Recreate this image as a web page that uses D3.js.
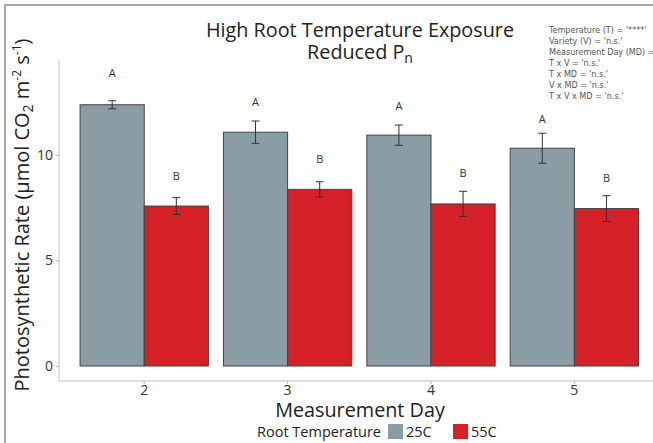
<!DOCTYPE html>
<html>
<head>
<meta charset="utf-8">
<script src="https://cdn.jsdelivr.net/npm/d3@7"></script>
<style>
  body { margin: 0; background: #fff; }
  svg { display: block; font-family: "Open Sans", "Noto Sans", sans-serif; }
  .axis path, .axis line { stroke: #bdbdbd; }
  .axis text { fill: #333; font-size: 14px; font-family: "Open Sans", sans-serif; }
  .stats text { font-family: "Liberation Sans Narrow", "DejaVu Sans Condensed", sans-serif; font-size: 9px; fill: #555; }
</style>
</head>
<body>
<svg id="chart" width="653" height="443"></svg>
<script>
(function () {
  "use strict";

  const days = ["2", "3", "4", "5"];
  const temps = ["25C", "55C"];
  const meanLow = [12.38, 11.08, 10.94, 10.32];
  const seLow = [0.19, 0.53, 0.48, 0.71];
  const meanHigh = [7.58, 8.37, 7.68, 7.46];
  const seHigh = [0.40, 0.36, 0.60, 0.61];
  const lettersLow = ["A", "A", "A", "A"];
  const lettersHigh = ["B", "B", "B", "B"];
  const letterPosLow = [13.9, 12.5, 12.3, 11.7];
  const letterPosHigh = [9.0, 9.8, 9.15, 8.9];
  const yTicks = [0, 5, 10];
  const statLines = [
    "Temperature (T)  = '****'",
    "Variety (V) = 'n.s.'",
    "Measurement Day (MD) = 'n.s.'",
    "T x V = 'n.s.'",
    "T x MD = 'n.s.'",
    "V x MD = 'n.s.'",
    "T x V x MD = 'n.s.'"
  ];

  const colors = { "25C": "#8a9da4", "55C": "#d42026" };

  const svg = d3.select("#chart");

  // frame of the original figure (cropped on the right / bottom)
  svg.append("path")
    .attr("d", "M5,443V5H653")
    .attr("fill", "none")
    .attr("stroke", "#a8a8a8")
    .attr("stroke-width", 2);

  const x = d3.scaleBand().domain(days).range([59, 659.6]).paddingInner(0.105).paddingOuter(0.147);
  const xInner = d3.scaleBand().domain(temps).range([0, x.bandwidth()]);
  const y = d3.scaleLinear().domain([-0.71, 14.5]).range([381, 60]);

  const rows = [];
  days.forEach((d, i) => {
    rows.push({ day: d, temp: "25C", mean: meanLow[i], se: seLow[i], letter: lettersLow[i], lpos: letterPosLow[i] });
    rows.push({ day: d, temp: "55C", mean: meanHigh[i], se: seHigh[i], letter: lettersHigh[i], lpos: letterPosHigh[i] });
  });

  svg.append("g")
    .attr("class", "axis")
    .attr("transform", "translate(59,0)")
    .call(d3.axisLeft(y).tickValues(yTicks).tickSize(3).tickPadding(3))
    .call((g) => g.select(".domain").attr("d", `M0,${y.range()[1]}V${y.range()[0]}`));

  svg.append("g")
    .attr("class", "axis")
    .attr("transform", "translate(0,381)")
    .call(d3.axisBottom(x).tickSize(3).tickPadding(1))
    .call((g) => g.select(".domain").attr("d", `M${x.range()[0]},0H${x.range()[1]}`));

  const cx = (r) => x(r.day) + xInner(r.temp);

  svg.append("g")
    .selectAll("rect")
    .data(rows)
    .join("rect")
    .attr("x", cx)
    .attr("y", (r) => y(r.mean))
    .attr("width", xInner.bandwidth())
    .attr("height", (r) => y(0) - y(r.mean))
    .attr("fill", (r) => colors[r.temp])
    .attr("stroke", "#444")
    .attr("stroke-width", 1);

  const err = svg.append("g").attr("stroke", "#333").attr("stroke-width", 1).attr("fill", "none");
  err.selectAll("path")
    .data(rows)
    .join("path")
    .attr("d", (r) => {
      const m = cx(r) + xInner.bandwidth() / 2;
      const t = y(r.mean + r.se);
      const b = y(r.mean - r.se);
      return `M${m - 4},${t}H${m + 4}M${m},${t}V${b}M${m - 4},${b}H${m + 4}`;
    });

  svg.append("g")
    .selectAll("text")
    .data(rows)
    .join("text")
    .attr("x", (r) => cx(r) + xInner.bandwidth() / 2)
    .attr("y", (r) => y(r.lpos))
    .attr("dy", "0.35em")
    .attr("text-anchor", "middle")
    .attr("font-size", 11)
    .attr("fill", "#333")
    .text((r) => r.letter);

  // titles
  const title = svg.append("text")
    .attr("text-anchor", "middle")
    .attr("font-size", 19.8)
    .attr("fill", "#222");
  title.append("tspan").attr("x", 360).attr("y", 37).text("High Root Temperature Exposure");
  const t2 = title.append("tspan").attr("x", 360).attr("y", 59);
  t2.append("tspan").text("Reduced P");
  t2.append("tspan").attr("font-size", 14).attr("dy", 4).text("n");

  svg.append("text")
    .attr("x", 360)
    .attr("y", 417)
    .attr("text-anchor", "middle")
    .attr("font-size", 19.8)
    .attr("fill", "#222")
    .text("Measurement Day");

  const yt = svg.append("text")
    .attr("transform", "translate(29,215) rotate(-90)")
    .attr("text-anchor", "middle")
    .attr("font-size", 20)
    .attr("fill", "#222");
  yt.append("tspan").text("Photosynthetic Rate (µmol CO");
  yt.append("tspan").attr("font-size", 14).attr("dy", 4).text("2");
  yt.append("tspan").attr("dy", -4).text(" m");
  yt.append("tspan").attr("font-size", 12).attr("dy", -8).text("-2");
  yt.append("tspan").attr("dy", 8).text(" s");
  yt.append("tspan").attr("font-size", 12).attr("dy", -8).text("-1");
  yt.append("tspan").attr("dy", 8).text(")");

  // stats block
  svg.append("g")
    .attr("class", "stats")
    .selectAll("text")
    .data(statLines)
    .join("text")
    .attr("x", 549)
    .attr("y", (d, i) => 33 + i * 11)
    .text((d) => d);

  // legend
  const lg = svg.append("g").attr("font-size", 14.5).attr("fill", "#222");
  lg.append("text").attr("x", 257).attr("y", 437).text("Root Temperature");
  const items = lg.selectAll("g.item")
    .data(temps)
    .join("g")
    .attr("class", "item")
    .attr("transform", (d, i) => `translate(${388 + i * 65},424)`);
  items.append("rect").attr("width", 15).attr("height", 15).attr("fill", (d) => colors[d]);
  items.append("text").attr("x", 18).attr("y", 13).text((d) => d);
})();
</script>
</body>
</html>
